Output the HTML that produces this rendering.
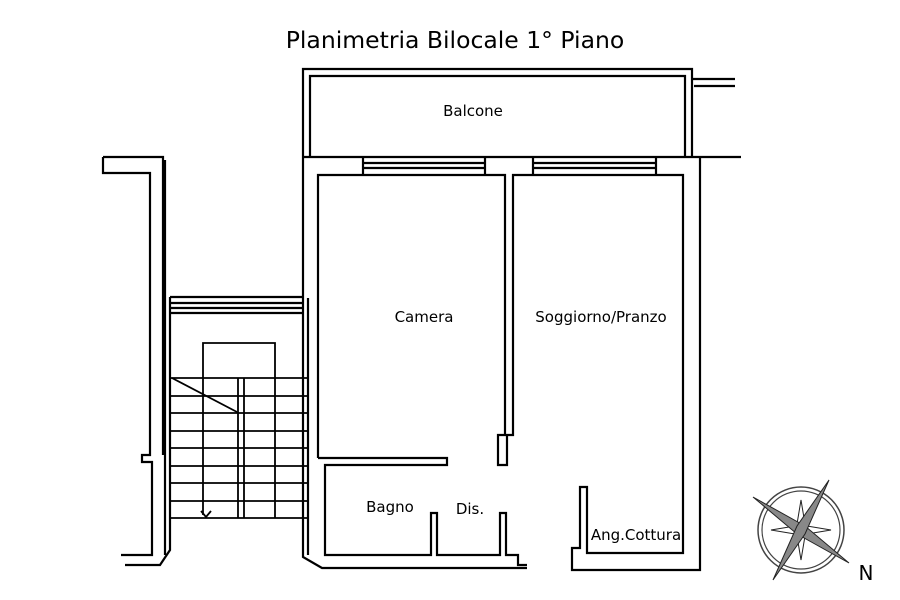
<!DOCTYPE html>
<html><head><meta charset="utf-8"><style>
html,body{margin:0;padding:0;background:#fff}
svg{display:block}
text{font-family:"DejaVu Sans","Liberation Sans",sans-serif;fill:#000}
</style></head><body>
<svg width="900" height="600" viewBox="0 0 900 600">
<g fill="none" stroke="#000" stroke-width="2.2" stroke-linejoin="miter">
<path d="M303,157 V69 H692 V157"/>
<path d="M310,157 V76 H685 V157"/>
<path d="M692,79 H735 M694,86 H735"/>
<path d="M303,157 H741"/>
<path d="M318,458 V175 H505 V435 H498 V465 H507 V435 H513 V175 H683 V553 H587 V487 H580 V548 H572 V570 H700 V157"/>
<path d="M363,157 V175 M485,157 V175 M363,163 H485 M363,168 H485"/>
<path d="M533,157 V175 M656,157 V175 M533,163 H656 M533,168 H656"/>
<path d="M318,458 H447 V465 H325 V555 H431 V513 H437 V555 H500 V513 H506 V555 H518 V565 H527"/>
<path d="M303,157 V557 L322,568 H527"/>
<path d="M308,298 V555"/>
<path d="M103,157 H163 V455"/>
<path d="M103,157 V173 H150 V455 H142 V462 H152 V555 H121"/>
<path d="M165,160 V555 M170,297 V550 L160,565 H125"/>
<path d="M170,297 H303 M170,303 H303 M170,308 H303 M170,313 H303"/>
<path stroke-width="1.8" d="M170,378 H308 M170,396 H308 M170,413 H308 M170,431 H308 M170,448 H308 M170,466 H308 M170,483 H308 M170,501 H308 M170,518 H308"/>
<path stroke-width="1.8" d="M203,378 V343 H275 V518 M203,378 V515 M238,378 V518 M244,378 V518"/>
<path stroke-width="1.8" d="M172,378 L237,412 M201,511 L206,517 L211,511"/>
</g>
<g transform="translate(801,530)">
<circle r="43" fill="none" stroke="#444" stroke-width="1.5"/>
<circle r="39" fill="none" stroke="#444" stroke-width="1.2"/>
<g stroke="#222" stroke-width="1" fill="#fff">
<polygon points="0,-30 5,0 0,30 -5,0"/>
<polygon points="-30,0 0,5 30,0 0,-5"/>
<polygon points="-48,-33 4,-4 48,33 -4,4" fill="#888"/>
<polygon points="28,-50 4,4 -28,50 -4,-4" fill="#888"/>
</g>
</g>
<text x="455" y="48" font-size="23.5" text-anchor="middle">Planimetria Bilocale 1° Piano</text>
<text x="473" y="116" font-size="15" text-anchor="middle">Balcone</text>
<text x="424" y="322" font-size="15" text-anchor="middle">Camera</text>
<text x="601" y="322" font-size="15" text-anchor="middle">Soggiorno/Pranzo</text>
<text x="390" y="512" font-size="15" text-anchor="middle">Bagno</text>
<text x="470" y="514" font-size="15" text-anchor="middle">Dis.</text>
<text x="636" y="540" font-size="15" text-anchor="middle">Ang.Cottura</text>
<text x="866" y="580" font-size="20" text-anchor="middle">N</text>
</svg>
</body></html>
